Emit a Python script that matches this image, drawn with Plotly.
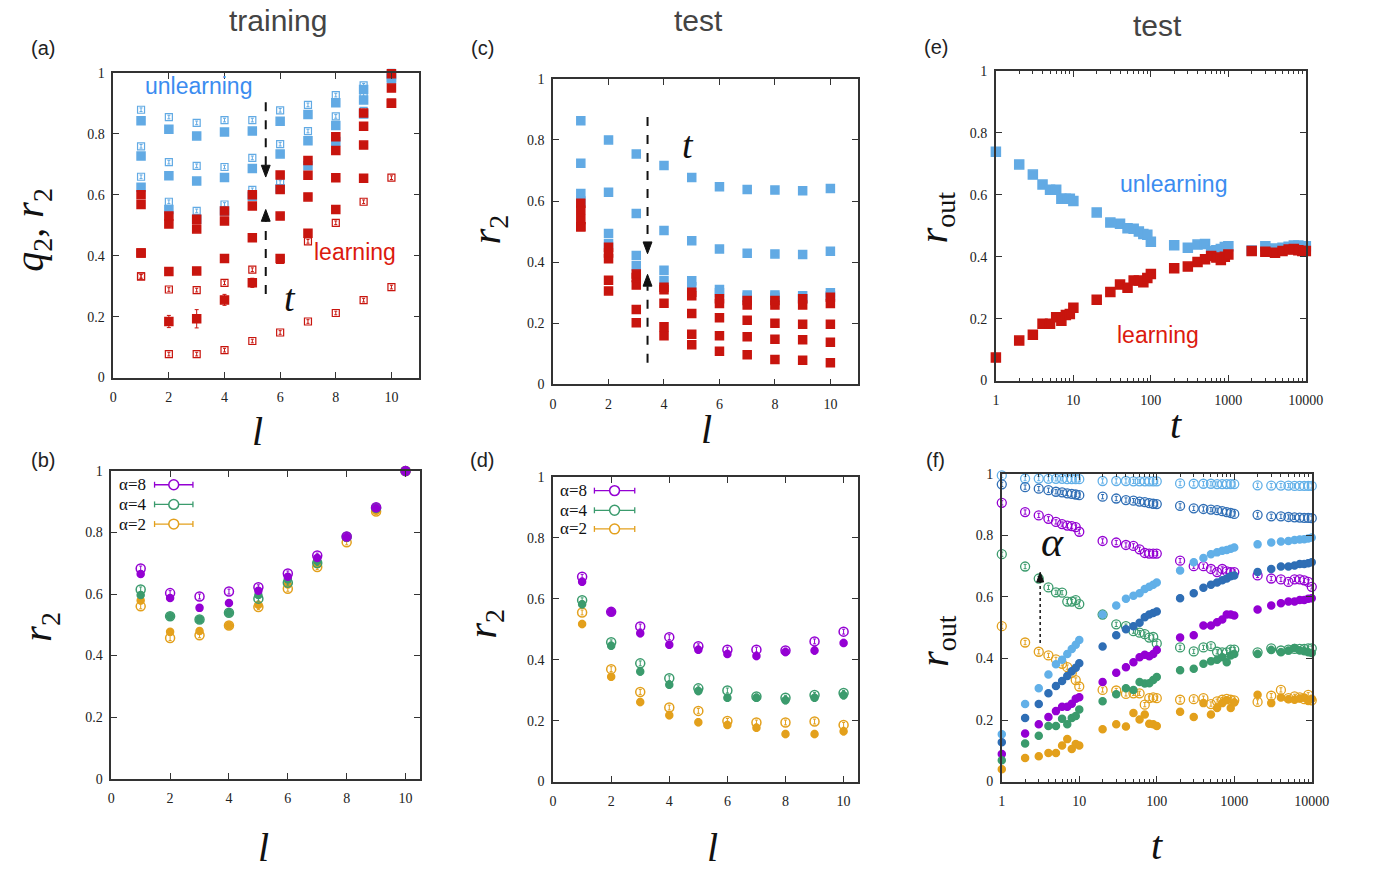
import plotly.graph_objects as go

W, H = 1376, 881

# ---------------- data ----------------
L = [1, 2, 3, 4, 5, 6, 7, 8, 9, 10]

# panel (a): training, q2 (open) and r2 (filled) at several times
a_unlearn_open_1 = [0.879, 0.855, 0.836, 0.845, 0.845, 0.877, 0.895, 0.927, 0.959, 1.0]
a_unlearn_fill_1 = [0.843, 0.815, 0.793, 0.806, 0.809, 0.841, 0.863, 0.902, 0.945, 0.995]
a_unlearn_open_2 = [0.759, 0.707, 0.695, 0.691, 0.721, 0.766, 0.809, 0.857, 0.930, 0.990]
a_unlearn_fill_2 = [0.727, 0.662, 0.645, 0.657, 0.686, 0.734, 0.777, 0.827, 0.911, 0.985]
a_unlearn_open_3 = [0.659, 0.577, 0.547, 0.568, 0.616, 0.640, 0.710, 0.790, 0.875, 0.980]
a_unlearn_fill_3 = [0.625, 0.552, 0.520, 0.547, 0.595, 0.620, 0.695, 0.775, 0.865, 0.980]

a_learn_fill_1 = [0.600, 0.530, 0.520, 0.547, 0.600, 0.665, 0.712, 0.790, 0.868, 0.997]
a_learn_fill_1b = [0.568, 0.504, 0.488, 0.514, 0.563, 0.617, 0.664, 0.745, 0.825, 0.950]
a_learn_fill_2 = [0.409, 0.348, 0.350, 0.391, 0.459, 0.530, 0.593, 0.656, 0.763, 0.900]
a_learn_open_2 = [0.332, 0.289, 0.287, 0.311, 0.354, 0.386, 0.447, 0.508, 0.577, 0.656]
a_learn_fill_3 = [0.409, 0.184, 0.193, 0.255, 0.311, 0.391, 0.474, 0.552, 0.654, 0.900]
a_learn_fill_3_err = [0.008, 0.020, 0.030, 0.018, 0.015, 0.008, 0.008, 0.008, 0.008, 0.008]
a_learn_open_3 = [0.332, 0.077, 0.077, 0.090, 0.120, 0.148, 0.184, 0.212, 0.254, 0.297]

# panel (c): test r2
c_unlearn_1 = [0.863, 0.800, 0.754, 0.716, 0.677, 0.647, 0.638, 0.636, 0.634, 0.641]
c_unlearn_2 = [0.724, 0.629, 0.559, 0.504, 0.470, 0.443, 0.429, 0.427, 0.425, 0.436]
c_unlearn_3 = [0.625, 0.494, 0.422, 0.374, 0.339, 0.311, 0.293, 0.293, 0.290, 0.300]
c_unlearn_4 = [0.600, 0.460, 0.388, 0.340, 0.320, 0.300, 0.285, 0.285, 0.280, 0.290]
c_learn_1 = [0.593, 0.449, 0.361, 0.318, 0.302, 0.280, 0.275, 0.275, 0.280, 0.285]
c_learn_1b = [0.570, 0.430, 0.350, 0.310, 0.290, 0.265, 0.260, 0.260, 0.260, 0.265]
c_learn_2 = [0.540, 0.411, 0.325, 0.266, 0.232, 0.218, 0.210, 0.200, 0.197, 0.197]
c_learn_3 = [0.516, 0.341, 0.245, 0.189, 0.164, 0.159, 0.156, 0.148, 0.146, 0.138]
c_learn_4 = [0.516, 0.306, 0.202, 0.159, 0.130, 0.109, 0.097, 0.082, 0.079, 0.071]

# time grid for panels (e) and (f)
T = [1, 2, 3, 4, 5, 6, 7, 8, 9, 10,
     20, 30, 40, 50, 60, 70, 80, 90, 100,
     200, 300, 400, 500, 600, 700, 800, 900, 1000,
     2000, 3000, 4000, 5000, 6000, 7000, 8000, 9000, 10000]

e_unlearn = [0.739, 0.698, 0.665, 0.633, 0.616, 0.616, 0.587, 0.587, 0.587, 0.580,
             0.543, 0.510, 0.506, 0.492, 0.490, 0.481, 0.473, 0.471, 0.448,
             0.437, 0.429, 0.439, 0.441, 0.418, 0.421, 0.425, 0.431, 0.434,
             0.420, 0.434, 0.426, 0.429, 0.432, 0.436, 0.436, 0.434, 0.434]
e_learn = [0.074, 0.129, 0.148, 0.183, 0.183, 0.204, 0.193, 0.212, 0.215, 0.235,
           0.261, 0.286, 0.310, 0.300, 0.323, 0.323, 0.317, 0.331, 0.344,
           0.363, 0.368, 0.383, 0.392, 0.402, 0.397, 0.389, 0.400, 0.407,
           0.418, 0.416, 0.413, 0.418, 0.423, 0.425, 0.421, 0.418, 0.418]

# panel (b): training r2 for alpha = 8, 4, 2
b_a8_open = [0.683, 0.603, 0.592, 0.608, 0.622, 0.667, 0.725, 0.787, 0.882, 1.0]
b_a8_fill = [0.665, 0.587, 0.555, 0.571, 0.611, 0.656, 0.717, 0.785, 0.880, 1.0]
b_a4_open = [0.615, 0.528, 0.517, 0.539, 0.585, 0.637, 0.701, 0.786, 0.880, 1.0]
b_a4_fill = [0.597, 0.528, 0.517, 0.539, 0.597, 0.647, 0.707, 0.784, 0.878, 1.0]
b_a2_open = [0.560, 0.457, 0.466, 0.498, 0.558, 0.617, 0.688, 0.768, 0.868, 1.0]
b_a2_fill = [0.579, 0.477, 0.480, 0.498, 0.565, 0.631, 0.697, 0.782, 0.871, 1.0]

# panel (d): test r2 for alpha = 8, 4, 2
d_a8_open = [0.672, 0.557, 0.509, 0.474, 0.444, 0.433, 0.433, 0.430, 0.460, 0.492]
d_a8_fill = [0.656, 0.557, 0.487, 0.449, 0.433, 0.419, 0.412, 0.425, 0.430, 0.455]
d_a4_open = [0.595, 0.457, 0.388, 0.339, 0.306, 0.299, 0.279, 0.275, 0.284, 0.291]
d_a4_fill = [0.582, 0.446, 0.361, 0.318, 0.297, 0.275, 0.275, 0.267, 0.275, 0.283]
d_a2_open = [0.555, 0.369, 0.294, 0.243, 0.232, 0.199, 0.194, 0.194, 0.197, 0.186]
d_a2_fill = [0.517, 0.344, 0.261, 0.218, 0.195, 0.186, 0.177, 0.156, 0.156, 0.165]

# panel (f): test r_out vs t for several alpha
f_lb_open = [0.995, 0.985, 0.985, 0.984, 0.984, 0.984, 0.983, 0.983, 0.983, 0.983,
             0.977, 0.977, 0.977, 0.976, 0.976, 0.976, 0.976, 0.976, 0.976,
             0.969, 0.968, 0.968, 0.968, 0.967, 0.967, 0.967, 0.967, 0.967,
             0.963, 0.962, 0.962, 0.962, 0.961, 0.961, 0.961, 0.961, 0.961]
f_db_open = [0.966, 0.957, 0.952, 0.947, 0.942, 0.940, 0.937, 0.935, 0.933, 0.931,
             0.926, 0.920, 0.915, 0.913, 0.910, 0.908, 0.905, 0.903, 0.902,
             0.896, 0.888, 0.886, 0.884, 0.882, 0.879, 0.876, 0.873, 0.870,
             0.867, 0.862, 0.862, 0.860, 0.859, 0.858, 0.857, 0.857, 0.856]
f_p_open = [0.906, 0.876, 0.865, 0.854, 0.844, 0.837, 0.832, 0.830, 0.827, 0.812,
            0.782, 0.777, 0.769, 0.766, 0.755, 0.743, 0.741, 0.741, 0.741,
            0.718, 0.700, 0.700, 0.691, 0.681, 0.691, 0.683, 0.681, 0.681,
            0.670, 0.660, 0.657, 0.649, 0.657, 0.657, 0.654, 0.649, 0.633]
f_g_open = [0.739, 0.699, 0.660, 0.631, 0.615, 0.614, 0.585, 0.585, 0.590, 0.577,
            0.543, 0.511, 0.505, 0.489, 0.484, 0.479, 0.468, 0.470, 0.449,
            0.436, 0.423, 0.436, 0.440, 0.422, 0.420, 0.420, 0.429, 0.429,
            0.420, 0.433, 0.426, 0.429, 0.431, 0.431, 0.431, 0.433, 0.433]
f_o_open = [0.505, 0.452, 0.422, 0.410, 0.397, 0.383, 0.372, 0.353, 0.330, 0.309,
            0.298, 0.296, 0.285, 0.287, 0.287, 0.250, 0.271, 0.274, 0.271,
            0.266, 0.268, 0.271, 0.252, 0.261, 0.266, 0.269, 0.266, 0.264,
            0.259, 0.279, 0.298, 0.271, 0.277, 0.274, 0.268, 0.282, 0.264]
f_lb_fill = [0.154, 0.252, 0.303, 0.348, 0.381, 0.396, 0.415, 0.431, 0.445, 0.460,
             0.543, 0.572, 0.594, 0.604, 0.612, 0.626, 0.633, 0.640, 0.647,
             0.686, 0.713, 0.727, 0.739, 0.745, 0.750, 0.753, 0.757, 0.761,
             0.771, 0.777, 0.780, 0.782, 0.785, 0.787, 0.788, 0.790, 0.793]
f_db_fill = [0.128, 0.207, 0.252, 0.287, 0.311, 0.327, 0.343, 0.359, 0.370, 0.385,
             0.439, 0.476, 0.495, 0.505, 0.516, 0.534, 0.543, 0.548, 0.553,
             0.596, 0.612, 0.630, 0.640, 0.647, 0.654, 0.660, 0.667, 0.670,
             0.681, 0.691, 0.699, 0.699, 0.702, 0.707, 0.707, 0.710, 0.713]
f_p_fill = [0.090, 0.156, 0.186, 0.210, 0.229, 0.243, 0.243, 0.253, 0.269, 0.274,
            0.324, 0.354, 0.372, 0.388, 0.404, 0.412, 0.407, 0.415, 0.428,
            0.468, 0.476, 0.507, 0.507, 0.518, 0.527, 0.543, 0.543, 0.540,
            0.559, 0.572, 0.580, 0.585, 0.585, 0.590, 0.590, 0.594, 0.596]
f_g_fill = [0.069, 0.124, 0.149, 0.181, 0.181, 0.204, 0.186, 0.207, 0.213, 0.234,
            0.261, 0.284, 0.303, 0.298, 0.324, 0.319, 0.320, 0.330, 0.340,
            0.362, 0.367, 0.383, 0.391, 0.396, 0.404, 0.388, 0.410, 0.415,
            0.415, 0.428, 0.420, 0.426, 0.434, 0.426, 0.424, 0.420, 0.418]
f_o_fill = [0.040, 0.077, 0.082, 0.093, 0.093, 0.117, 0.138, 0.106, 0.122, 0.117,
            0.170, 0.186, 0.179, 0.223, 0.202, 0.218, 0.188, 0.186, 0.181,
            0.227, 0.210, 0.255, 0.218, 0.239, 0.255, 0.264, 0.239, 0.257,
            0.282, 0.255, 0.273, 0.268, 0.266, 0.270, 0.273, 0.262, 0.269]

alpha_labels = ["α=8", "α=4", "α=2"]
log_major = [1, 10, 100, 1000, 10000]
log_major_text = ["1", "10", "100", "1000", "10000"]

# ---------------- styling ----------------
RED = "#c8150e"
BLUE = "#62aae4"
TXT_BLUE = "#3b8cf0"
TXT_RED = "#dc1a0e"
PURPLE = "#9400d3"
GREEN = "#3b9b6d"
ORANGE = "#e3a01c"
LBLUE = "#62b0e8"
DBLUE = "#2f6eb5"
SERIF = "Liberation Serif"
SANS = "Liberation Sans"


def px(x):
    return x / W


def py(y):
    return 1 - y / H


fig = go.Figure()


def add(xs, ys, ax, color, symbol, size=8, err=None, errval=None, lw=1.5):
    kw = {}
    if err is not None:
        kw["error_y"] = dict(type="data", array=err, color=color, thickness=1, width=2)
    elif errval is not None:
        kw["error_y"] = dict(type="constant", value=errval, color=color, thickness=1, width=1.5)
    fig.add_trace(go.Scatter(
        x=xs, y=ys, mode="markers", xaxis="x" + ax, yaxis="y" + ax,
        marker=dict(symbol=symbol, size=size, color=color, line=dict(color=color, width=lw)),
        showlegend=False, cliponaxis=False, hoverinfo="x+y", **kw))


# panel (a) -> axis ""
for s in [a_unlearn_open_1, a_unlearn_open_2, a_unlearn_open_3]:
    add(L, s, "", BLUE, "square-open", 7, errval=0.006, lw=1.2)
for s in [a_unlearn_fill_1, a_unlearn_fill_2, a_unlearn_fill_3]:
    add(L, s, "", BLUE, "square", 8)
for s in [a_learn_open_2, a_learn_open_3]:
    add(L, s, "", RED, "square-open", 7, errval=0.006, lw=1.2)
add(L, a_learn_fill_3, "", RED, "square", 8, err=a_learn_fill_3_err)
for s in [a_learn_fill_2, a_learn_fill_1b, a_learn_fill_1]:
    add(L, s, "", RED, "square", 8)

# panel (c) -> axis "2"
for s in [c_unlearn_1, c_unlearn_2, c_unlearn_4, c_unlearn_3]:
    add(L, s, "2", BLUE, "square", 8)
for s in [c_learn_4, c_learn_3, c_learn_2, c_learn_1b, c_learn_1]:
    add(L, s, "2", RED, "square", 8)

# panel (e) -> axis "3"
add(T, e_unlearn, "3", BLUE, "square", 9)
add(T, e_learn, "3", RED, "square", 9)

# panel (b) -> axis "4"
for o, f, c in [(b_a2_open, b_a2_fill, ORANGE), (b_a4_open, b_a4_fill, GREEN), (b_a8_open, b_a8_fill, PURPLE)]:
    add(L, o, "4", c, "circle-open", 9, errval=0.008, lw=1.5)
    add(L, f, "4", c, "circle", 7, errval=0.008)

# panel (d) -> axis "5"
for o, f, c in [(d_a2_open, d_a2_fill, ORANGE), (d_a4_open, d_a4_fill, GREEN), (d_a8_open, d_a8_fill, PURPLE)]:
    add(L, o, "5", c, "circle-open", 9, errval=0.008, lw=1.5)
    add(L, f, "5", c, "circle", 7, errval=0.012)

# panel (f) -> axis "6"
for o, c in [(f_lb_open, LBLUE), (f_db_open, DBLUE), (f_p_open, PURPLE), (f_g_open, GREEN), (f_o_open, ORANGE)]:
    add(T, o, "6", c, "circle-open", 9, errval=0.007, lw=1.3)
for f, c in [(f_lb_fill, LBLUE), (f_db_fill, DBLUE), (f_p_fill, PURPLE), (f_g_fill, GREEN), (f_o_fill, ORANGE)]:
    add(T, f, "6", c, "circle", 7, errval=0.01)

# ---------------- axes ----------------
TICKFONT = dict(family=SERIF, size=14, color="#222")
minor_log = [m * d for d in [1, 10, 100, 1000] for m in [2, 3, 4, 5, 6, 7, 8, 9]]


def axis(domain, rng, anchor, **kw):
    d = dict(domain=domain, range=rng, anchor=anchor, showline=True, linecolor="#333", linewidth=1.5,
             mirror="ticks", ticks="inside", ticklen=6, tickcolor="#333", tickwidth=1.2,
             showgrid=False, zeroline=False, tickfont=TICKFONT)
    d.update(kw)
    return d


def xd(l, r):
    return [px(l), px(r)]


def yd(t, b):
    return [py(b), py(t)]


panels = {
    "": ((111, 422), (67, 377), [0, 11], "lin"),
    "2": ((558, 868), (73, 384), [0, 11], "lin"),
    "3": ((1008, 1323), (65, 380), [0, 4], "log"),
    "4": ((109, 423), (472, 785), [0, 10.5], "lin"),
    "5": ((558, 868), (478, 788), [0, 10.5], "lin"),
    "6": ((1014, 1329), (475, 788), [0, 4], "log"),
}
layout_axes = {}
for k, ((l, r), (t, b), xr, kind) in panels.items():
    if kind == "lin":
        xa = axis(xd(l, r), xr, "y" + k, dtick=2, tick0=0, ticklabelstandoff=6)
    else:
        xa = axis(xd(l, r), xr, "y" + k, type="log", tickmode="array", tickvals=log_major,
                  ticktext=log_major_text, ticklabelstandoff=6,
                  minor=dict(ticks="inside", ticklen=3, tickcolor="#333", showgrid=False,
                             tickmode="array", tickvals=minor_log))
    ya = axis(yd(t, b), [0, 1], "x" + k, dtick=0.2, tick0=0, ticklabelstandoff=4)
    layout_axes["xaxis" + k] = xa
    layout_axes["yaxis" + k] = ya

fig.update_layout(width=W, height=H, margin=dict(l=0, r=0, t=0, b=0),
                  paper_bgcolor="white", plot_bgcolor="white", showlegend=False, **layout_axes)

# ---------------- annotations ----------------
ann = []


def text(x, y, s, size, family=SANS, color="#222", angle=0, yanchor="middle"):
    ann.append(dict(x=px(x), y=py(y), xref="paper", yref="paper", text=s, showarrow=False,
                    font=dict(family=family, size=size, color=color), textangle=angle,
                    xanchor="center", yanchor=yanchor))


# column titles
text(278, 14, "training", 30, color="#444")
text(706, 14, "test", 30, color="#444")
text(1172, 19, "test", 30, color="#444")
# panel labels
for (x, y, s) in [(40, 42, "(a)"), (486, 42, "(c)"), (947, 41, "(e)"),
                  (40, 461, "(b)"), (486, 461, "(d)"), (947, 461, "(f)")]:
    text(x, y, s, 20)
# y titles
text(29, 227, "<i>q</i><sub>2</sub>, <i>r</i><sub>2</sub>", 40, family=SERIF, color="#111", angle=-90)
text(493, 226, "<i>r</i><sub>2</sub>", 40, family=SERIF, color="#111", angle=-90)
text(947, 214, "<i>r</i><sub>out</sub>", 40, family=SERIF, color="#111", angle=-90)
text(37, 630, "<i>r</i><sub>2</sub>", 40, family=SERIF, color="#111", angle=-90)
text(489, 627, "<i>r</i><sub>2</sub>", 40, family=SERIF, color="#111", angle=-90)
text(948, 645, "<i>r</i><sub>out</sub>", 40, family=SERIF, color="#111", angle=-90)
# x titles
text(258, 432, "<i>l</i>", 40, family=SERIF, color="#111")
text(714, 430, "<i>l</i>", 40, family=SERIF, color="#111")
text(1191, 425, "<i>t</i>", 40, family=SERIF, color="#111")
text(264, 880, "<i>l</i>", 40, family=SERIF, color="#111", yanchor="bottom")
text(720, 880, "<i>l</i>", 40, family=SERIF, color="#111", yanchor="bottom")
text(1172, 878, "<i>t</i>", 40, family=SERIF, color="#111", yanchor="bottom")
# in-plot labels
text(198, 80, "unlearning", 23, color=TXT_BLUE)
text(357, 249, "learning", 23, color=TXT_RED)
text(1188, 180, "unlearning", 23, color=TXT_BLUE)
text(1173, 334, "learning", 23, color=TXT_RED)
text(291, 296, "<i>t</i>", 38, family=SERIF, color="#111")
text(695, 140, "<i>t</i>", 38, family=SERIF, color="#111")
text(1066, 544, "<i>α</i>", 42, family=SERIF, color="#111")

shapes = []


def dashed(x, y0, y1, width=2, dash="dash"):
    shapes.append(dict(type="line", xref="paper", yref="paper", x0=px(x), x1=px(x), y0=py(y0), y1=py(y1),
                       line=dict(color="#111", width=width, dash=dash)))


def head(x, y, up, hw=4.5, hl=12):
    base = y + hl if up else y - hl
    path = "M {:.5f},{:.5f} L {:.5f},{:.5f} L {:.5f},{:.5f} Z".format(
        px(x - hw), py(base), px(x + hw), py(base), px(x), py(y))
    shapes.append(dict(type="path", xref="paper", yref="paper", path=path,
                       fillcolor="#111", line=dict(color="#111", width=1)))


# panel (a) arrows
dashed(266, 97, 162)
head(266, 173, up=False)
dashed(266, 292, 218)
head(266, 206, up=True)
# panel (c) arrows
dashed(654, 112, 240)
head(654, 251, up=False)
dashed(654, 362, 284)
head(654, 272, up=True)
# panel (f) arrow
dashed(1053, 647, 585, width=1.5, dash="dot")
head(1053, 575, up=True, hw=3.5, hl=10)

# legends in (b) and (d)
for (tx, lx0, lx1, ys) in [(146, 153, 192, [486, 506, 526]), (594, 600, 641, [492, 512, 531])]:
    for lab, col, yy in zip(alpha_labels, [PURPLE, GREEN, ORANGE], ys):
        ann.append(dict(x=px(tx), y=py(yy), xref="paper", yref="paper", text=lab, showarrow=False,
                        font=dict(family=SERIF, size=17, color="#111"), xanchor="right", yanchor="middle"))
        shapes.append(dict(type="line", xref="paper", yref="paper", x0=px(lx0), x1=px(lx1), y0=py(yy), y1=py(yy),
                           line=dict(color=col, width=1.3)))
        for xx in (lx0, lx1):
            shapes.append(dict(type="line", xref="paper", yref="paper", x0=px(xx), x1=px(xx),
                               y0=py(yy - 3), y1=py(yy + 3), line=dict(color=col, width=1.3)))
        cx = (lx0 + lx1) / 2
        shapes.append(dict(type="circle", xref="paper", yref="paper", x0=px(cx - 5), x1=px(cx + 5),
                           y0=py(yy + 5), y1=py(yy - 5), line=dict(color=col, width=1.5), fillcolor="white"))

fig.update_layout(annotations=ann, shapes=shapes)
fig.write_html("out.html")
